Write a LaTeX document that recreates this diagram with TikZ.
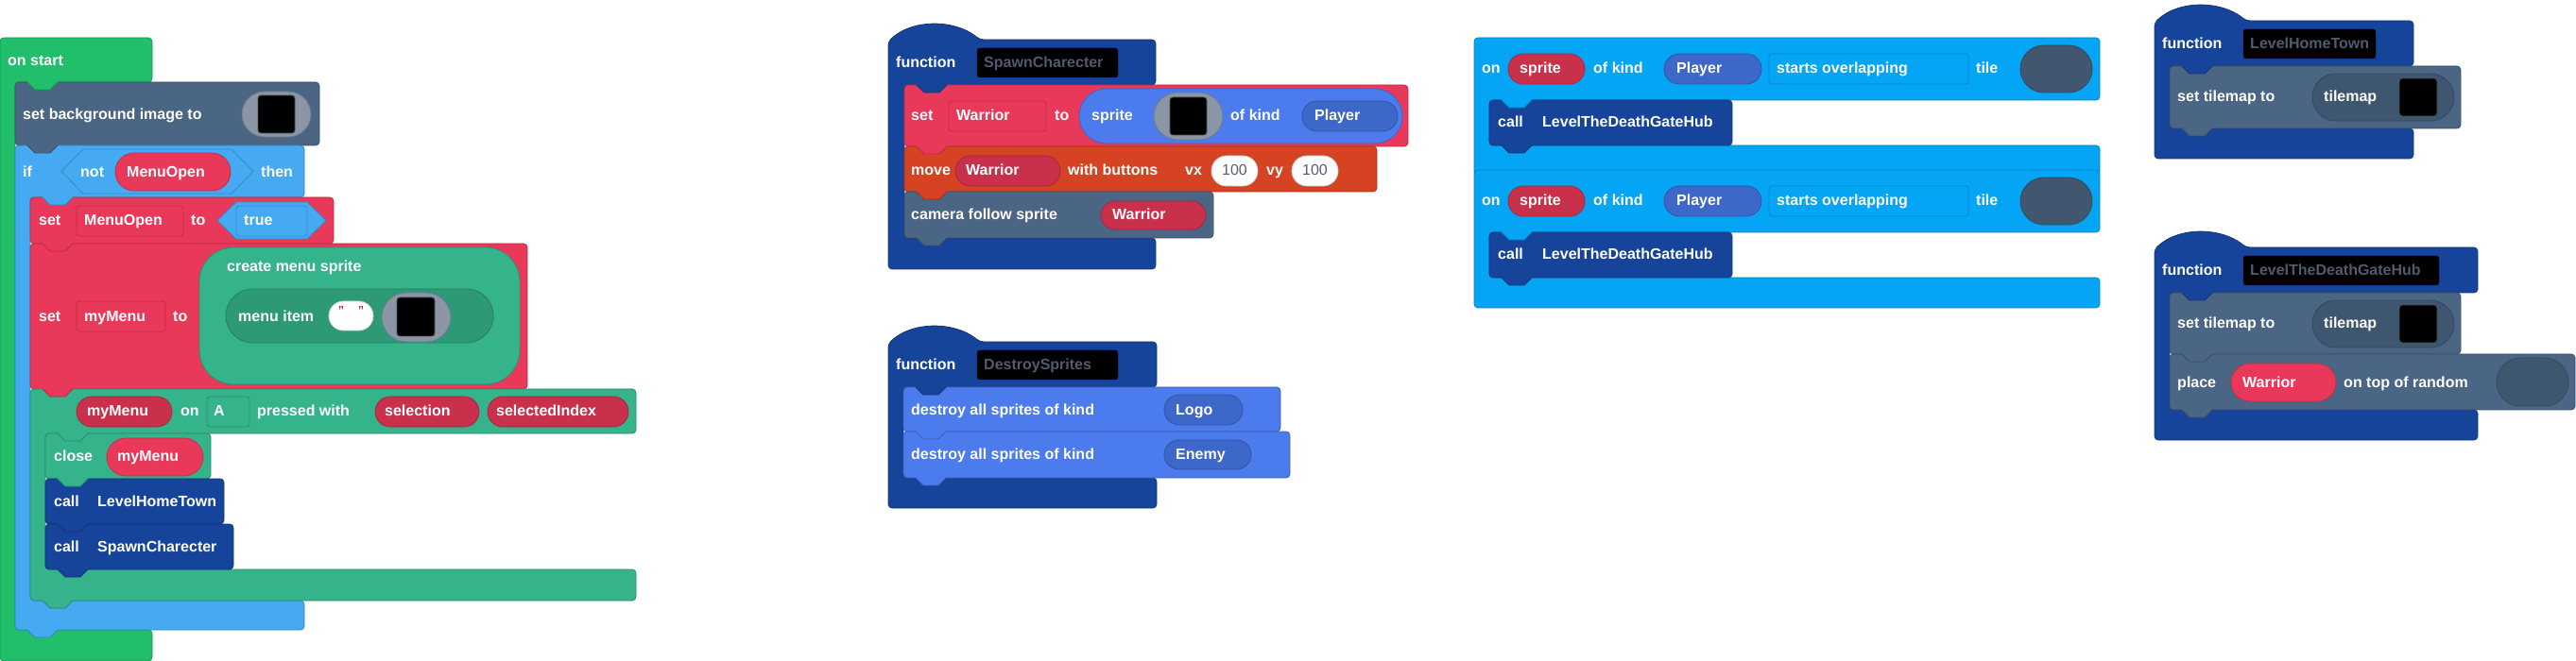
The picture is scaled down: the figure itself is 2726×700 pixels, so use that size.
\documentclass[tikz,border=0pt]{standalone}
\usepackage{fontspec}
\setmainfont{Liberation Sans}
\definecolor{startg}{HTML}{21BF6B}
\definecolor{slate}{HTML}{4B6584}
\definecolor{slated}{HTML}{3F5671}
\definecolor{logic}{HTML}{45AAF2}
\definecolor{varred}{HTML}{E9395A}
\definecolor{vard}{HTML}{C8304B}
\definecolor{menug}{HTML}{35B38A}
\definecolor{menugd}{HTML}{2D9A75}
\definecolor{func}{HTML}{17449B}
\definecolor{sprite}{HTML}{4B7BEC}
\definecolor{kind}{HTML}{3D67C9}
\definecolor{ctrl}{HTML}{D54322}
\definecolor{tilec}{HTML}{04A5F5}
\definecolor{tiledark}{HTML}{41566F}
\definecolor{imggray}{HTML}{8A95A5}
\definecolor{namegray}{HTML}{525A70}
\definecolor{numgray}{HTML}{575E75}
\definecolor{quotered}{HTML}{A31515}
\newcommand{\blk}[5]{\filldraw[fill=#5,draw=#5!78!black,line width=0.8pt,rounded corners=4pt] (#1,#2) rectangle (#3,#4);}
\newcommand{\cblk}[9]{\filldraw[fill=#9,draw=#9!78!black,line width=0.8pt,rounded corners=4pt] (#1,#2) -- (#3,#2) -- (#3,#4) -- (#5,#4) -- (#5,#6) -- (#7,#6) -- (#7,#8) -- (#1,#8) -- cycle;}
\newcommand{\fblk}[9]{\filldraw[fill=#9,draw=#9!78!black,line width=0.8pt,rounded corners=4pt] (#1,#2+10) -- (#1,#2+2) .. controls (#1+25,#2-22) and (#1+70,#2-22) .. (#1+97,#2) -- (#3,#2) -- (#3,#4) -- (#5,#4) -- (#5,#6) -- (#7,#6) -- (#7,#8) -- (#1,#8) -- cycle;}
\newcommand{\tabx}[3]{\fill[#3] (#1+13,#2-1.2) -- (#1+13,#2) -- (#1+21,#2+8) -- (#1+37,#2+8) -- (#1+45,#2) -- (#1+45,#2-1.2) -- cycle;
  \draw[#3!78!black,line width=0.8pt] (#1+13,#2) -- (#1+21,#2+8) -- (#1+37,#2+8) -- (#1+45,#2);}
\newcommand{\pill}[5]{\pgfmathsetmacro\pillr{(#4-#2)/2-0.05}\filldraw[fill=#5,draw=#5!82!black,line width=0.8pt,rounded corners=\pillr pt] (#1,#2) rectangle (#3,#4);}
\newcommand{\fld}[5]{\filldraw[fill=#5,draw=#5!80!black,line width=0.8pt,rounded corners=3pt] (#1,#2) rectangle (#3,#4);}
\newcommand{\blacksq}[4]{\filldraw[fill=black,draw=imggray!55!black,line width=0.8pt,rounded corners=3pt] (#1,#2) rectangle (#3,#4);}
\newcommand{\nbox}[4]{\filldraw[fill=black,draw=black,rounded corners=3pt] (#1,#2) rectangle (#3,#4);}
\newcommand{\btxt}[4]{\node[lbl] (#1) at (#2,#3) {#4};}
\begin{document}
\begin{tikzpicture}[x=1pt,y=-1pt,
  lbl/.style={anchor=west,inner sep=0pt,text height=10pt,text depth=0pt,text=white,font=\bfseries\fontsize{16}{18}\selectfont},
  nm/.style={lbl,text=namegray},
  num/.style={anchor=center,inner sep=0pt,text height=10pt,text depth=0pt,text=numgray,font=\fontsize{16}{18}\selectfont},
  qt/.style={anchor=north,inner sep=0pt,text=quotered,font=\fontsize{16}{18}\selectfont}]
\useasboundingbox (0,0) rectangle (2726,700);
\fill[white] (0,0) rectangle (2726,700);

% ===== on start =====
\cblk{0}{40}{161}{87}{16}{667}{161}{700}{startg}
\blk{16}{87}{338}{154}{slate}
\cblk{16}{154}{322}{209}{32}{636}{322}{667}{logic}
\blk{32}{209}{353}{258}{varred}
\blk{32}{258}{558}{412}{varred}
\cblk{32}{412}{673}{459}{48}{603}{673}{636}{menug}
\blk{48}{459}{223}{507}{menug}
\blk{48}{507}{237}{555}{func}
\blk{48}{555}{247}{603}{func}
\tabx{16}{87}{startg}
\tabx{16}{154}{slate}
\tabx{32}{209}{logic}
\tabx{32}{258}{varred}
\tabx{32}{412}{varred}
\tabx{48}{459}{menug}
\tabx{48}{507}{menug}
\tabx{48}{555}{func}
\tabx{48}{603}{func}
\tabx{32}{636}{menug}
\tabx{16}{667}{logic}
\btxt{a1}{8}{65}{on start}
\btxt{a2}{24}{122}{set background image to}
\pill{256}{97}{329}{145}{imggray}
\blacksq{273}{101}{312}{141}
\btxt{a3}{24}{183}{if}
\filldraw[fill=logic,draw=logic!80!black,line width=0.8pt] (65,181.5) -- (88,158) -- (245,158) -- (268,181.5) -- (245,205) -- (88,205) -- cycle;
\btxt{a4}{85}{183}{not}
\pill{122}{162}{244}{202}{varred}
\btxt{a5}{134}{183}{MenuOpen}
\btxt{a6}{276}{183}{then}
\btxt{a7}{41}{234}{set}
\fld{81}{218}{194}{250}{varred}
\btxt{a8}{89}{234}{MenuOpen}
\btxt{a9}{202}{234}{to}
\filldraw[fill=logic,draw=logic!80!black,line width=0.8pt] (230,233.5) -- (250,214) -- (325,214) -- (345,233.5) -- (325,253) -- (250,253) -- cycle;
\fld{250}{218}{325}{250}{logic}
\btxt{a10}{258}{234}{true}
\btxt{a11}{41}{336}{set}
\fld{81}{319}{175}{351}{varred}
\btxt{a12}{89}{336}{myMenu}
\btxt{a13}{183}{336}{to}
\filldraw[fill=menug,draw=menug!80!black,line width=0.8pt,rounded corners=36pt] (211,262) rectangle (550,407);
\btxt{a14}{240}{283}{create menu sprite}
\pill{239}{306}{522}{363}{menugd}
\btxt{a15}{252}{336}{menu item}
\pill{348}{319}{395}{350}{white}
\node[qt] (q1) at (361,324) {"};
\node[qt] (q2) at (382,324) {"};
\pill{404}{310}{477}{362}{imggray}
\blacksq{420}{315}{460}{356}
\pill{81}{420}{182}{452}{vard}
\btxt{a16}{92}{436}{myMenu}
\btxt{a17}{191}{436}{on}
\fld{219}{420}{264}{452}{menug}
\btxt{a18}{226}{436}{A}
\btxt{a19}{272}{436}{pressed with}
\pill{397}{420}{507}{452}{vard}
\btxt{a20}{407}{436}{selection}
\pill{516}{420}{665}{452}{vard}
\btxt{a21}{525}{436}{selectedIndex}
\btxt{a22}{57}{483}{close}
\pill{113}{464}{215}{504}{varred}
\btxt{a23}{124}{483}{myMenu}
\btxt{a24}{57}{531}{call}
\btxt{a25}{103}{531}{LevelHomeTown}
\btxt{a26}{57}{579}{call}
\btxt{a27}{103}{579}{SpawnCharecter}

% ===== function SpawnCharecter =====
\fblk{940}{42}{1223}{90}{957}{252}{1223}{285}{func}
\blk{957}{90}{1490}{155}{varred}
\blk{957}{155}{1457}{203}{ctrl}
\blk{957}{203}{1284}{252}{slate}
\tabx{957}{90}{func}
\tabx{957}{155}{varred}
\tabx{957}{203}{ctrl}
\tabx{957}{252}{slate}
\btxt{b1}{948}{67}{function}
\nbox{1034}{51}{1183}{82}
\node[nm] (b2) at (1041,67) {SpawnCharecter};
\btxt{b3}{964}{123}{set}
\fld{1004}{107}{1107}{139}{varred}
\btxt{b4}{1012}{123}{Warrior}
\btxt{b5}{1116}{123}{to}
\pill{1142}{94}{1484}{152}{sprite}
\btxt{b6}{1155}{123}{sprite}
\pill{1221}{98}{1294}{148}{imggray}
\blacksq{1238}{103}{1277}{143}
\btxt{b7}{1302}{123}{of kind}
\pill{1378}{107}{1479}{139}{kind}
\btxt{b8}{1391}{123}{Player}
\btxt{b9}{964}{181}{move}
\pill{1011}{165}{1122}{197}{vard}
\btxt{b10}{1022}{181}{Warrior}
\btxt{b11}{1130}{181}{with buttons}
\btxt{b12}{1254}{181}{vx}
\pill{1282}{165}{1331}{197}{white}
\node[num] (b13) at (1306.5,181) {100};
\btxt{b14}{1340}{181}{vy}
\pill{1367}{165}{1416}{197}{white}
\node[num] (b15) at (1391.5,181) {100};
\btxt{b16}{964}{228}{camera follow sprite}
\pill{1165}{213}{1276}{243}{vard}
\btxt{b17}{1177}{228}{Warrior}

% ===== function DestroySprites =====
\fblk{940}{362}{1224}{410}{956}{506}{1224}{538}{func}
\blk{956}{410}{1355}{457}{sprite}
\blk{956}{457}{1365}{506}{sprite}
\tabx{956}{410}{func}
\tabx{956}{457}{sprite}
\tabx{956}{506}{sprite}
\btxt{c1}{948}{387}{function}
\nbox{1034}{371}{1183}{402}
\node[nm] (c2) at (1041,387) {DestroySprites};
\btxt{c3}{964}{434}{destroy all sprites of kind}
\pill{1232}{418}{1315}{450}{kind}
\btxt{c4}{1244}{434}{Logo}
\btxt{c5}{964}{481}{destroy all sprites of kind}
\pill{1232}{466}{1324}{497}{kind}
\btxt{c6}{1244}{481}{Enemy}

% ===== overlap events =====
\cblk{1560}{40}{2222}{106}{1576}{154}{2222}{186}{tilec}
\blk{1576}{106}{1833}{154}{func}
\tabx{1576}{106}{tilec}
\tabx{1576}{154}{func}
\btxt{d1}{1568}{73}{on}
\pill{1596}{57}{1677}{89}{vard}
\btxt{d2}{1608}{73}{sprite}
\btxt{d3}{1686}{73}{of kind}
\pill{1761}{57}{1864}{89}{kind}
\btxt{d4}{1774}{73}{Player}
\fld{1872}{57}{2083}{89}{tilec}
\btxt{d5}{1880}{73}{starts overlapping}
\btxt{d6}{2091}{73}{tile}
\pill{2138}{48}{2214}{98}{tiledark}
\btxt{d7}{1585}{130}{call}
\btxt{d8}{1632}{130}{LevelTheDeathGateHub}

\cblk{1560}{180}{2222}{246}{1576}{294}{2222}{326}{tilec}
\blk{1576}{246}{1833}{294}{func}
\tabx{1576}{246}{tilec}
\tabx{1576}{294}{func}
\btxt{e1}{1568}{213}{on}
\pill{1596}{197}{1677}{229}{vard}
\btxt{e2}{1608}{213}{sprite}
\btxt{e3}{1686}{213}{of kind}
\pill{1761}{197}{1864}{229}{kind}
\btxt{e4}{1774}{213}{Player}
\fld{1872}{197}{2083}{229}{tilec}
\btxt{e5}{1880}{213}{starts overlapping}
\btxt{e6}{2091}{213}{tile}
\pill{2138}{188}{2214}{238}{tiledark}
\btxt{e7}{1585}{270}{call}
\btxt{e8}{1632}{270}{LevelTheDeathGateHub}

% ===== function LevelHomeTown =====
\fblk{2280}{22}{2554}{70}{2296}{136}{2554}{168}{func}
\blk{2296}{70}{2604}{136}{slate}
\tabx{2296}{70}{func}
\tabx{2296}{136}{slate}
\btxt{f1}{2288}{47}{function}
\nbox{2374}{31}{2514}{62}
\node[nm] (f2) at (2381,47) {LevelHomeTown};
\btxt{f3}{2304}{103}{set tilemap to}
\pill{2447}{78}{2597}{128}{slated}
\btxt{f4}{2459}{103}{tilemap}
\blacksq{2539}{83}{2579}{123}

% ===== function LevelTheDeathGateHub =====
\fblk{2280}{262}{2622}{310}{2296}{434}{2622}{466}{func}
\blk{2296}{310}{2604}{375}{slate}
\blk{2296}{375}{2725}{434}{slate}
\tabx{2296}{310}{func}
\tabx{2296}{375}{slate}
\tabx{2296}{434}{slate}
\btxt{g1}{2288}{287}{function}
\nbox{2374}{271}{2581}{302}
\node[nm] (g2) at (2381,287) {LevelTheDeathGateHub};
\btxt{g3}{2304}{343}{set tilemap to}
\pill{2447}{318}{2597}{368}{slated}
\btxt{g4}{2459}{343}{tilemap}
\blacksq{2539}{323}{2579}{363}
\btxt{g5}{2304}{405}{place}
\pill{2361}{385}{2472}{425}{varred}
\btxt{g6}{2373}{405}{Warrior}
\btxt{g7}{2480}{405}{on top of random}
\pill{2642}{379}{2718}{430}{slated}
\end{tikzpicture}
\end{document}
